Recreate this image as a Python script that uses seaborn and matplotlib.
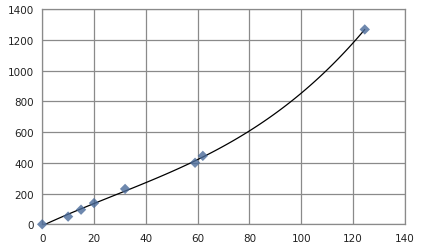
import matplotlib
matplotlib.use("Agg")
import matplotlib.pyplot as plt
import seaborn as sns
import numpy as np
import pandas as pd

x_values = [0, 10, 15, 20, 32, 59, 62, 124.5]
y_values = [0, 50, 95, 138, 230, 400, 445, 1267]
x_ticks = [0, 20, 40, 60, 80, 100, 120, 140]
y_ticks = [0, 200, 400, 600, 800, 1000, 1200, 1400]

df = pd.DataFrame({"x": x_values, "y": y_values})

sns.set_style("white")
plt.rcParams['font.family'] = ['DejaVu Sans']

fig = plt.figure(figsize=(4.24, 2.53), dpi=100)
ax = fig.add_axes([0.0995, 0.1095, 0.8555, 0.851])

sns.regplot(data=df, x="x", y="y", order=3, ci=None, ax=ax, marker="D",
            scatter_kws=dict(s=28, color="#4A6B9A", edgecolors="none", zorder=3, clip_on=False),
            line_kws=dict(color="black", lw=0.9, zorder=2))

ax.set_xlim(0, 140)
ax.set_ylim(0, 1400)
ax.set_xticks(x_ticks)
ax.set_yticks(y_ticks)
ax.set_xlabel("")
ax.set_ylabel("")
ax.grid(True, color="#8a8a8a", lw=0.9)
ax.set_axisbelow(True)
for s in ax.spines.values():
    s.set_color("#8a8a8a")
    s.set_linewidth(0.9)
ax.tick_params(length=0, labelsize=7.5, colors="#222222", pad=6)

fig.savefig("out.png", dpi=100)
